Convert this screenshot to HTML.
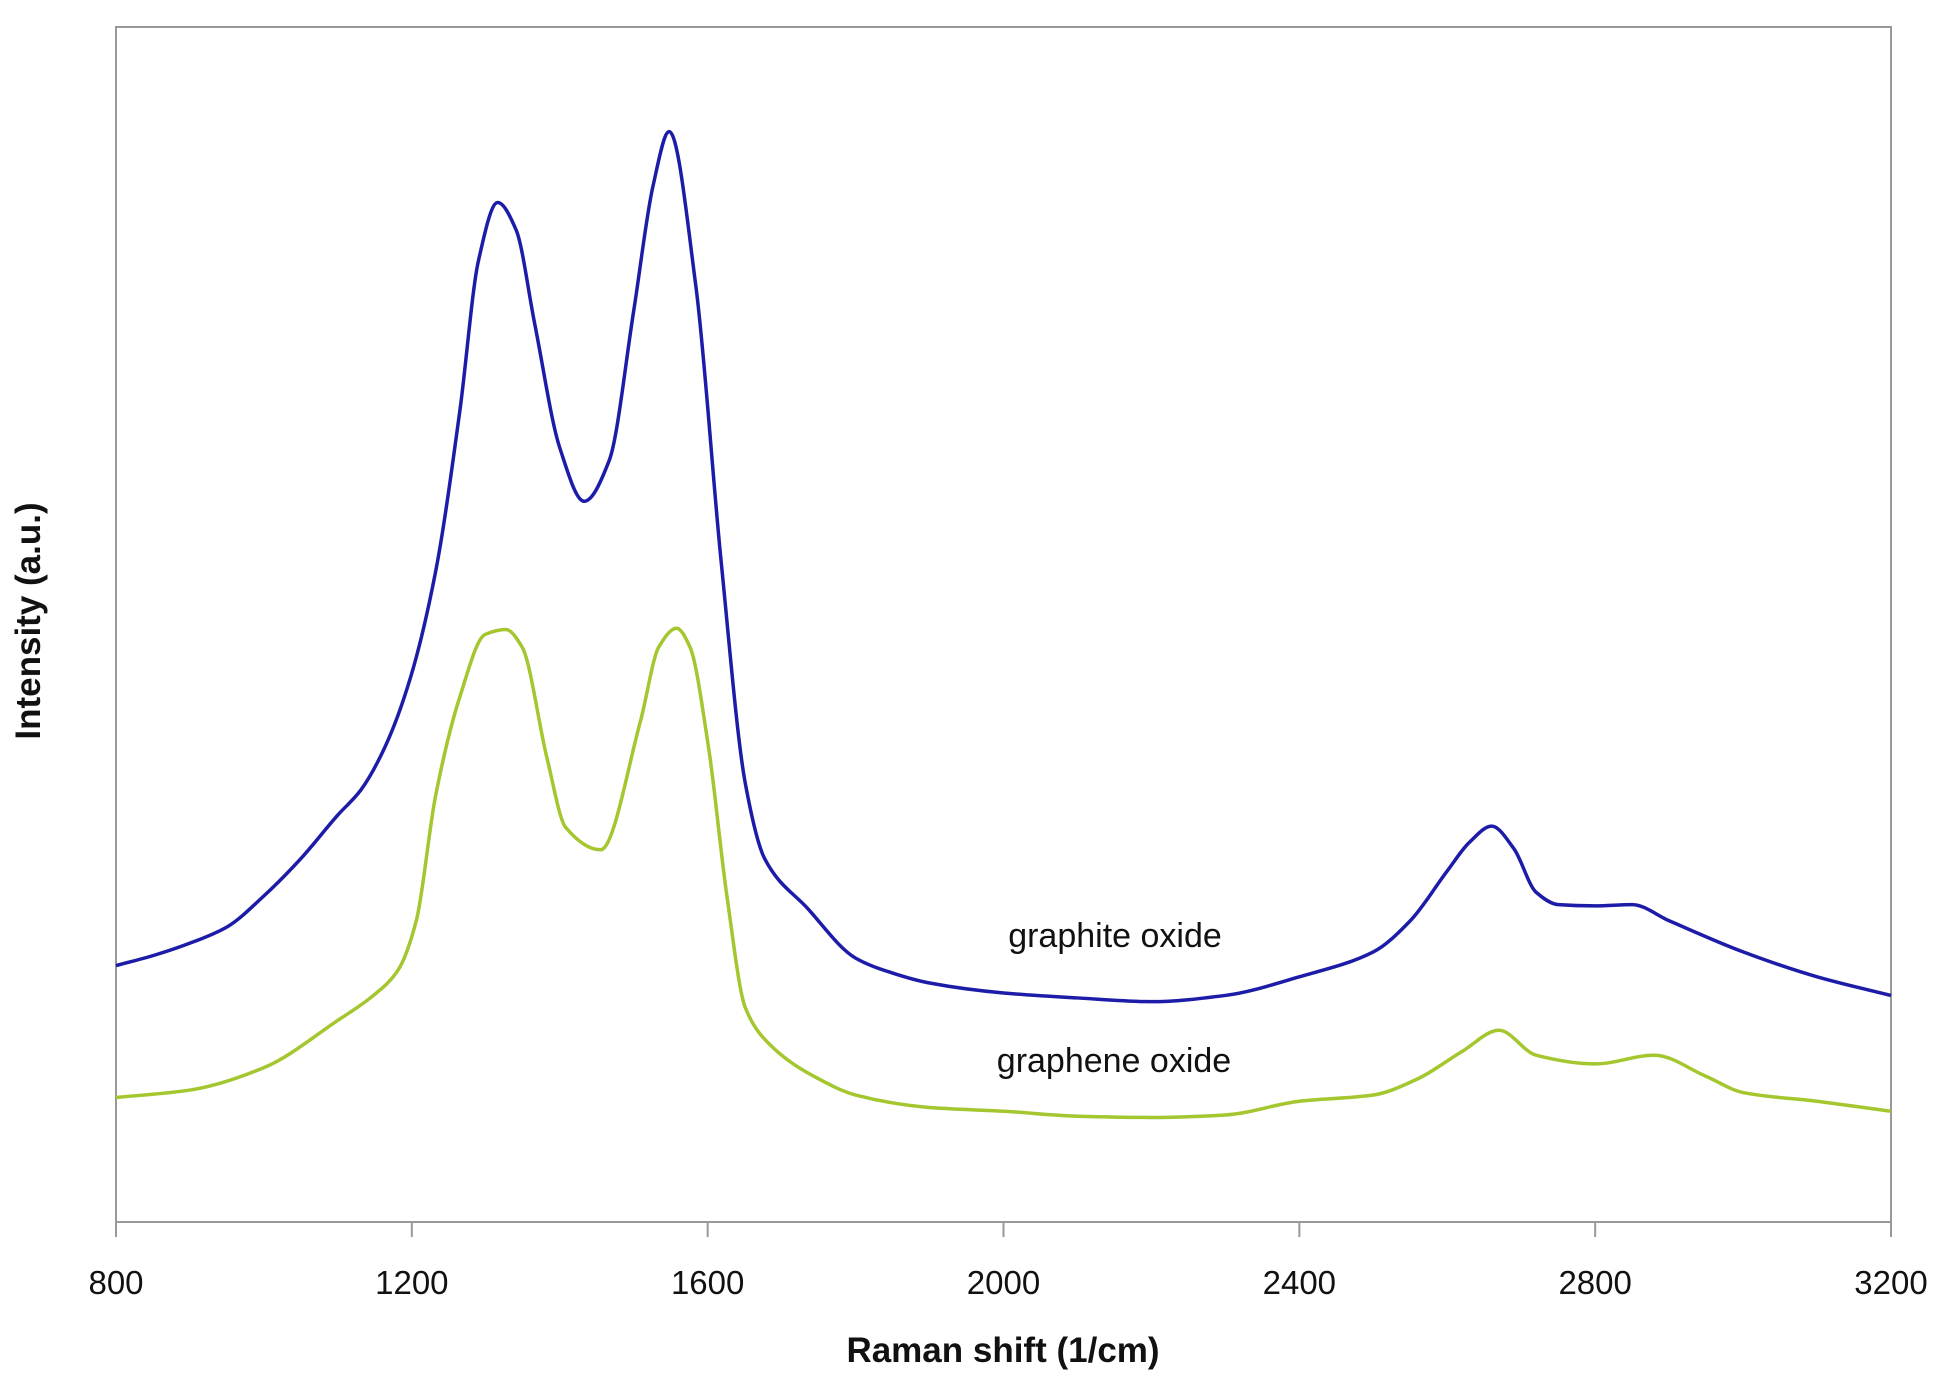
<!DOCTYPE html>
<html><head><meta charset="utf-8"><style>
html,body{margin:0;padding:0;background:#fff;}
svg{display:block;font-family:"Liberation Sans",Arial,sans-serif;}
</style></head><body>
<svg id="chart" width="1948" height="1396" viewBox="0 0 1948 1396">
<rect x="116" y="27" width="1775" height="1195" fill="#fff" stroke="#999" stroke-width="2"/>
<g id="ticks"></g>
<g id="series"></g>
<text x="1115" y="947" font-size="34" text-anchor="middle" fill="#111">graphite oxide</text>
<text x="1114" y="1072" font-size="34" text-anchor="middle" fill="#111">graphene oxide</text>
<text x="1003" y="1362" font-size="35" font-weight="bold" text-anchor="middle" fill="#111">Raman shift (1/cm)</text>
<text transform="translate(40,621) rotate(-90)" font-size="35" font-weight="bold" text-anchor="middle" fill="#111">Intensity (a.u.)</text>
</svg>
<script>
const xTicks=[800,1200,1600,2000,2400,2800,3200];
const blueX=[800,850,900,950,1000,1050,1100,1131,1164,1198,1232,1265,1290,1316,1341,1366,1400,1433,1467,1500,1526,1548,1584,1618,1651,1677,1735,1800,1850,1900,2000,2100,2200,2300,2400,2500,2550,2600,2630,2660,2690,2720,2750,2800,2850,2900,3000,3100,3200];
const blueY=[206,214,224,237,262,292,327,347,382,437,522,652,772,819,797,722,622,579,612,732,832,876,752,532,352,292,252,212,200,192,184,180,177,182,197,217,242,282,305,318,300,265,255,254,255,242,217,197,182];
const greenX=[800,900,1000,1100,1148,1181,1206,1232,1265,1299,1327,1349,1383,1408,1455,1509,1534,1558,1576,1601,1626,1651,1685,1750,1800,1900,2000,2100,2200,2300,2400,2500,2560,2620,2670,2720,2800,2880,2950,3000,3100,3200];
const greenY=[100,106,124,162,182,202,242,342,422,472,476,462,372,317,299,402,462,477,462,382,262,172,142,115,102,92,89,85,84,86,97,102,115,137,154,134,127,134,117,104,97,89];
const NS="http://www.w3.org/2000/svg";
function sx(v){return 116+(v-800)/(3200-800)*1775;}
function sy(v){return 1222-v/960*(1222-27);}
const tg=document.getElementById('ticks');
xTicks.forEach(t=>{
  const l=document.createElementNS(NS,'line');
  l.setAttribute('x1',sx(t));l.setAttribute('x2',sx(t));l.setAttribute('y1',1222);l.setAttribute('y2',1237);
  l.setAttribute('stroke','#999');l.setAttribute('stroke-width','2');
  
  
  tg.appendChild(l);
  const tx=document.createElementNS(NS,'text');
  tx.setAttribute('x',sx(t));tx.setAttribute('y',1294);tx.setAttribute('font-size','33');
  tx.setAttribute('text-anchor','middle');tx.setAttribute('fill','#111');
  tx.textContent=t;
  
  
  tg.appendChild(tx);
});
function pathFor(xs,ys){
  const p=xs.map((x,i)=>[sx(x),sy(ys[i])]);
  const n=p.length, d=[], m=[];
  for(let i=0;i<n-1;i++) d.push((p[i+1][1]-p[i][1])/(p[i+1][0]-p[i][0]));
  m[0]=d[0]; m[n-1]=d[n-2];
  for(let i=1;i<n-1;i++){
    if(d[i-1]*d[i]<=0) m[i]=0;
    else { const h0=p[i][0]-p[i-1][0], h1=p[i+1][0]-p[i][0];
      m[i]=3*(h0+h1)/((2*h1+h0)/d[i-1]+(h1+2*h0)/d[i]); }
  }
  let s='M'+p[0][0]+','+p[0][1];
  for(let i=0;i<n-1;i++){
    const h=(p[i+1][0]-p[i][0])/3;
    s+=' C'+(p[i][0]+h)+','+(p[i][1]+m[i]*h)+' '+(p[i+1][0]-h)+','+(p[i+1][1]-m[i+1]*h)+' '+p[i+1][0]+','+p[i+1][1];
  }
  return s;
}
const sg=document.getElementById('series');
const pb=document.createElementNS(NS,'path');
pb.setAttribute('d',pathFor(blueX,blueY));
pb.setAttribute('fill','none');pb.setAttribute('stroke','#1c1ca8');pb.setAttribute('stroke-width','3.5');


sg.appendChild(pb);
const pg=document.createElementNS(NS,'path');
pg.setAttribute('d',pathFor(greenX,greenY));
pg.setAttribute('fill','none');pg.setAttribute('stroke','#a4c62e');pg.setAttribute('stroke-width','3.5');


sg.appendChild(pg);
</script>
</body></html>
